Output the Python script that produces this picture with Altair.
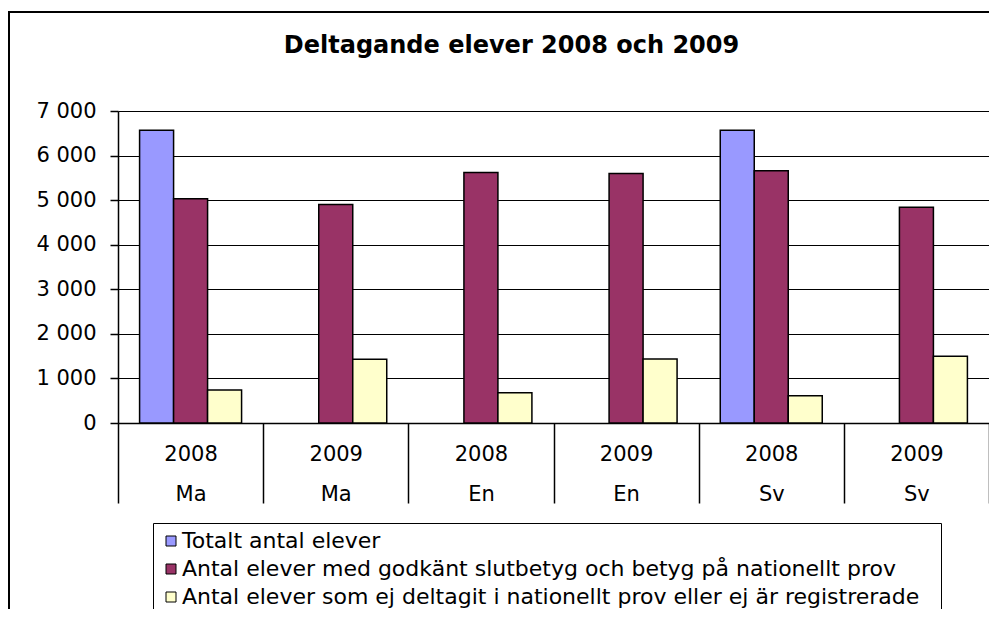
import altair as alt
import pandas as pd

# ---- data ----
years = ["2008", "2009", "2008", "2009", "2008", "2009"]
subjects = ["Ma", "Ma", "En", "En", "Sv", "Sv"]
series = [
    "Totalt antal elever",
    "Antal elever med godkänt slutbetyg och betyg på nationellt prov",
    "Antal elever som ej deltagit i nationellt  prov  eller ej är registrerade",
]
totalt = [6570, None, None, None, 6570, None]
godkant = [5030, 4900, 5620, 5600, 5660, 4840]
ej_deltagit = [740, 1430, 680, 1435, 610, 1495]
colors = ["#9999FF", "#993366", "#FFFFCC"]
y_ticks = [0, 1000, 2000, 3000, 4000, 5000, 6000, 7000]
title_text = "Deltagande elever 2008 och 2009"

groups = [f"{y}|{s}" for y, s in zip(years, subjects)]
rows = []
for i, g in enumerate(groups):
    for name, vals in zip(series, [totalt, godkant, ej_deltagit]):
        if vals[i] is not None:
            rows.append({"grupp": g, "serie": name, "antal": vals[i]})
df = pd.DataFrame(rows)

FONT = "DejaVu Sans"

bars = alt.Chart(df).mark_bar(stroke="black", strokeWidth=1.5).encode(
    x=alt.X(
        "grupp:N",
        sort=groups,
        scale=alt.Scale(domain=groups, paddingInner=0, paddingOuter=0),
        axis=alt.Axis(
            title=None,
            labelExpr="isValid(datum.value) ? split(datum.value, '|') : ''",
            labelAngle=0,
            tickBand="extent",
            tickSize=80,
            tickColor="black",
            tickWidth=1.5,
            domainColor="black",
            domainWidth=1.5,
            labelPadding=-60,
            labelLineHeight=40,
            labelFont=FONT,
            labelFontSize=21,
            labelColor="black",
            grid=False,
        ),
    ),
    xOffset=alt.XOffset(
        "serie:N",
        scale=alt.Scale(domain=series, paddingInner=0, paddingOuter=0.635),
    ),
    y=alt.Y(
        "antal:Q",
        scale=alt.Scale(domain=[0, 7000], nice=False),
        axis=alt.Axis(
            title=None,
            values=y_ticks,
            labelExpr="replace(format(datum.value, ','), ',', ' ')",
            labelFont=FONT,
            labelFontSize=21,
            labelColor="black",
            labelPadding=14,
            tickSize=8,
            tickColor="black",
            tickWidth=1.5,
            domainColor="black",
            domainWidth=1.5,
            grid=True,
            gridColor="black",
            gridWidth=1.2,
        ),
    ),
    fill=alt.Fill(
        "serie:N",
        scale=alt.Scale(domain=series, range=colors),
        legend=alt.Legend(
            title=None,
            orient="none",
            legendX=35,
            legendY=412,
            direction="vertical",
            symbolType="square",
            symbolSize=100,
            symbolStrokeColor="black",
            symbolStrokeWidth=1,
            labelFont=FONT,
            labelFontSize=22,
            labelColor="black",
            labelLimit=2000,
            labelOffset=0,
            rowPadding=6,
            padding=7,
            strokeColor="black",
            fillColor="white",
        ),
    ),
)

frame = alt.Chart(pd.DataFrame({"f": [0]})).mark_rect(
    filled=False, stroke="black", strokeWidth=2
).encode(
    x=alt.value(-109), x2=alt.value(900), y=alt.value(-99), y2=alt.value(520)
)

chart = alt.layer(frame, bars).properties(
    width=871,
    height=312,
    autosize=alt.AutoSizeParams(type="none"),
    padding={"left": 110, "top": 103, "right": 0, "bottom": 186},
    title=alt.Title(
        title_text,
        font=FONT,
        fontSize=24,
        fontWeight="bold",
        color="black",
        anchor="middle",
        frame="group",
        dx=-42,
        offset=-47,
    ),
).configure_view(fill="#C0C0C0", stroke="#808080", strokeWidth=2).configure(
    background="white"
)

chart.save("out.html", embed_options={"renderer": "svg", "actions": False})
